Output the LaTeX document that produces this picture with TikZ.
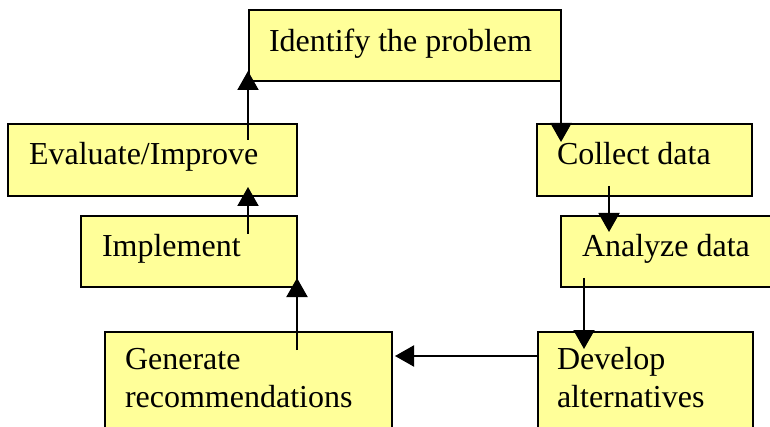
\documentclass[tikz,border=0pt]{standalone}
\usepackage{fontspec}
\setmainfont{Liberation Serif}
\usetikzlibrary{arrows.meta,calc}
\definecolor{boxfill}{HTML}{FFFF99}
\tikzset{
  box/.style={draw=black, fill=boxfill, line width=2pt, inner sep=0pt, outer sep=0pt, anchor=north west},
  lbl/.style={inner sep=0pt, outer sep=0pt, anchor=base west, font=\fontsize{32}{38}\selectfont},
  arr/.style={line width=2pt, -{Triangle[width=21pt,length=19pt]}}
}
\begin{document}
\begin{tikzpicture}[x=1pt,y=-1pt]
\useasboundingbox (0,0) rectangle (770,427);
\clip (0,0) rectangle (770,427);
\node[box, minimum width=312pt, minimum height=71pt] (id) at (249,10) {};
\node[box, minimum width=215pt, minimum height=72pt] (col) at (537,124) {};
\node[box, minimum width=230pt, minimum height=71pt] (ana) at (561,216) {};
\node[box, minimum width=215pt, minimum height=130pt] (dev) at (538,332) {};
\node[box, minimum width=287pt, minimum height=130pt] (gen) at (105,332) {};
\node[box, minimum width=216pt, minimum height=71pt] (imp) at (81,216) {};
\node[box, minimum width=289pt, minimum height=72pt] (eva) at (8,124) {};
\node[lbl] (tid) at (269,52) {Identify the problem};
\node[lbl] (tcol) at (557,165) {Collect data};
\node[lbl] (tana) at (582,257) {Analyze data};
\node[lbl] (tdev1) at (557,369) {Develop};
\node[lbl] (tdev2) at (557,407) {alternatives};
\node[lbl] (tgen1) at (125,369) {Generate};
\node[lbl] (tgen2) at (125,407) {recommendations};
\node[lbl] (timp) at (102,257) {Implement};
\node[lbl] (teva) at (29,165) {Evaluate/Improve};
\draw[arr] ($(eva.north west)+(240,16)$) -- ($(id.south west)+(-1,-10)$);
\draw[arr] (id.south east) -- ($(col.north west)+(24,18)$);
\draw[arr] ($(col.north west)+(72,62)$) -- ($(ana.north west)+(48,16)$);
\draw[arr] ($(ana.north west)+(23,62)$) -- ($(dev.north west)+(46,17)$);
\draw[arr] ($(dev.north west)+(0,24)$) -- ($(gen.north east)+(3,24)$);
\draw[arr] ($(gen.north west)+(192,18)$) -- ($(imp.south east)+(0,-9)$);
\draw[arr] ($(imp.north west)+(167,18)$) -- ($(eva.south west)+(240,-9)$);
\end{tikzpicture}
\end{document}
